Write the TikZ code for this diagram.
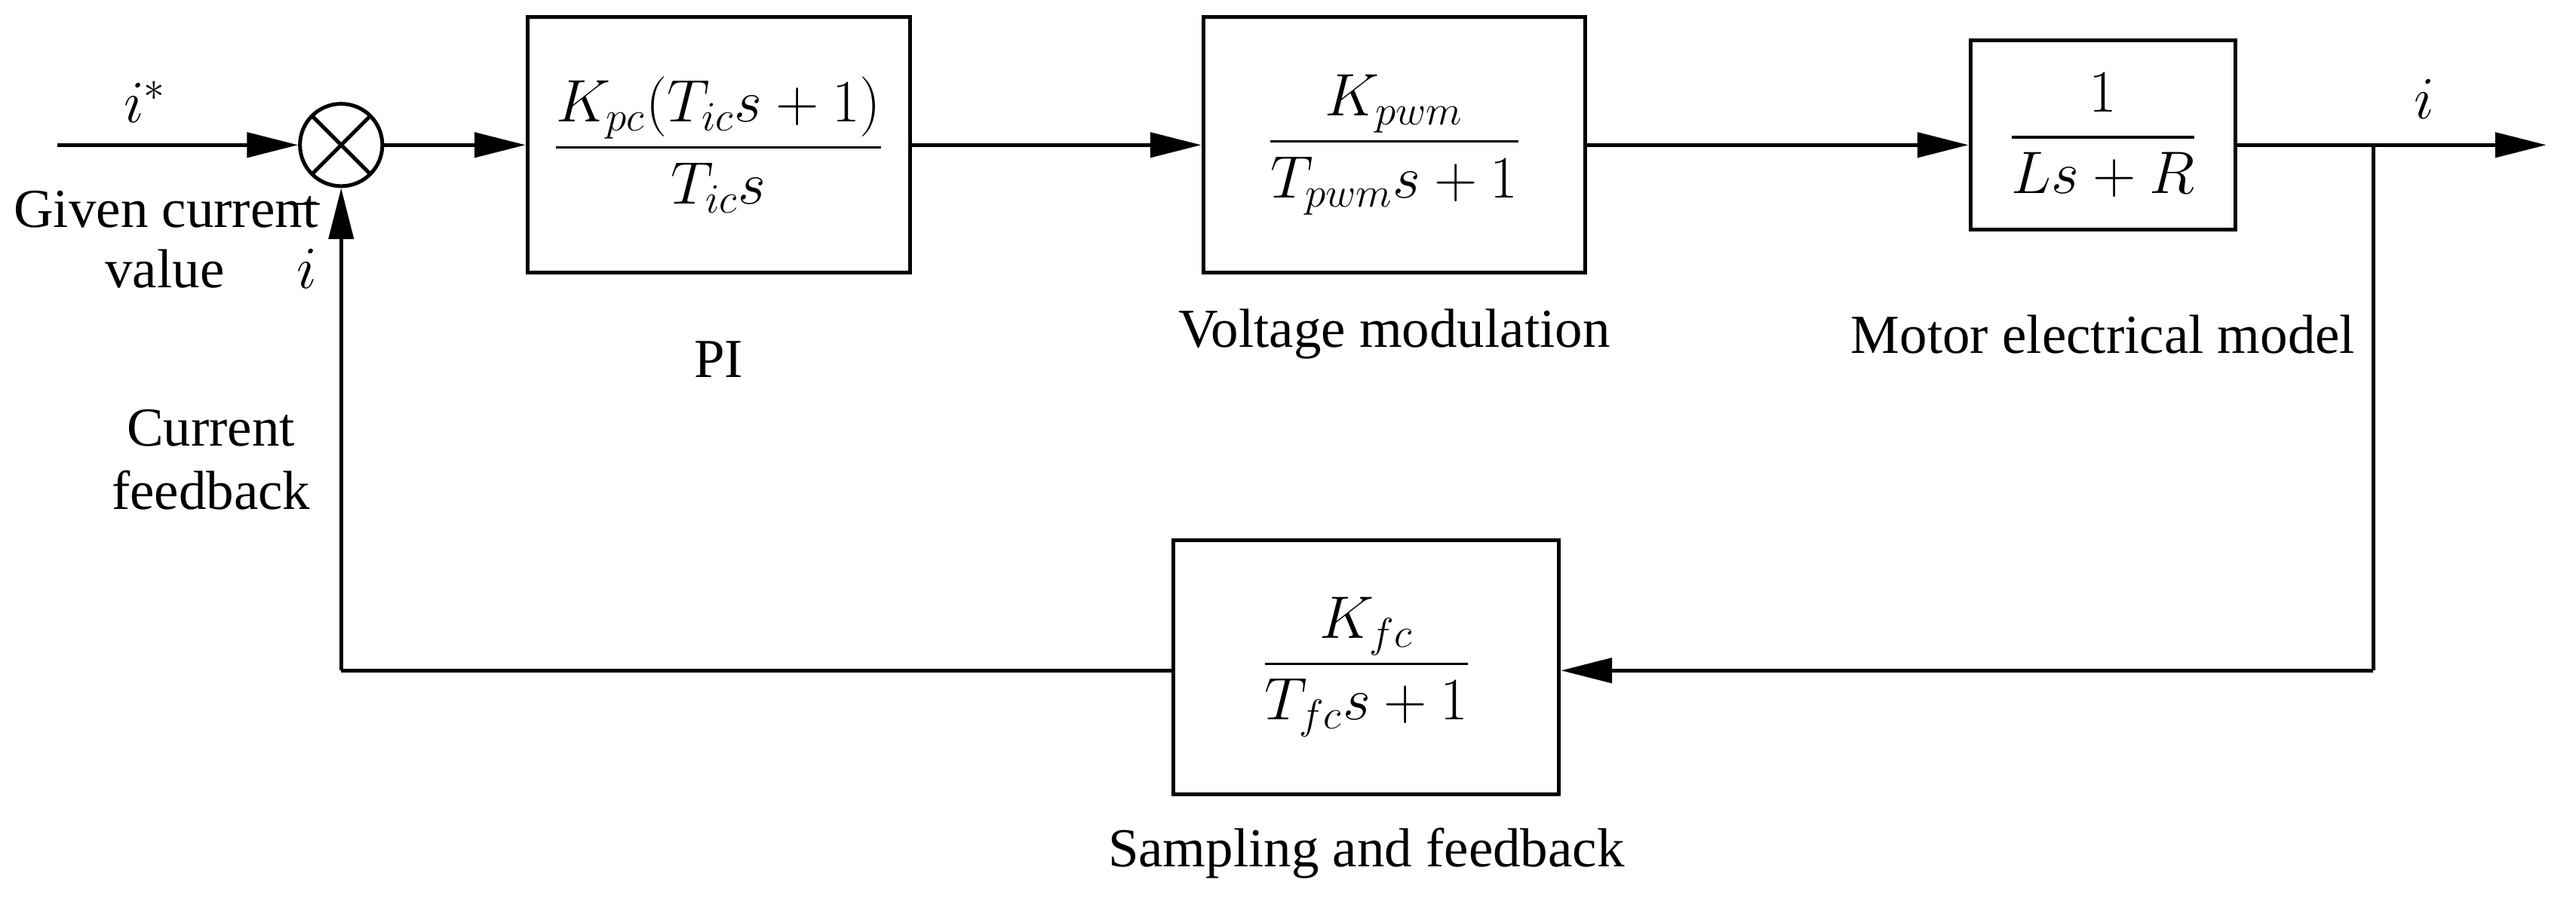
\documentclass[tikz,border=0pt]{standalone}
\usepackage{amsmath}
\usepackage{fontspec}
\setmainfont{Liberation Serif}
\usetikzlibrary{arrows.meta}
\usetikzlibrary{calc}

\tikzset{
	blk/.style={draw,line width=1.3pt,minimum width=#1,inner sep=0pt,font=\fontsize{22}{26}\selectfont},
	sig/.style={line width=1.3pt,-{Triangle[length=0.62cm,width=0.3cm]}},
	wire/.style={line width=1.3pt},
	lbl/.style={font=\fontsize{19}{22}\selectfont,align=center},
	sumj/.style={draw,circle,line width=1.3pt,minimum size=1cm,inner sep=0pt,
		path picture={\draw[line width=1.3pt] (path picture bounding box.north west) -- (path picture bounding box.south east) (path picture bounding box.north east) -- (path picture bounding box.south west);}}
}

\begin{document}
\begin{tikzpicture}[x=0.02cm,y=-0.02cm]
		\useasboundingbox (0,0) rectangle (1563,545);
		\coordinate (in) at (35,88);
		\node[sumj] (sum) at (207,88) {};
		\node[blk=4.64cm,minimum height=3.1cm] (pi) at (436,88) {$\dfrac{K_{pc}(T_{ic}s+1)}{T_{ic}s}$};
		\node[blk=4.64cm,minimum height=3.1cm] (vm) at (846,88) {$\dfrac{K_{pwm}}{T_{pwm}s+1}$};
		\node[blk=3.22cm,minimum height=2.3cm] (mot) at (1276,82) {$\dfrac{1}{Ls+R}$};
		\node[blk=4.68cm,minimum height=3.08cm] (fb) at (829,405) {$\dfrac{K_{fc}}{T_{fc}s+1}$};
		\coordinate (out) at (1545,88);
		\coordinate (br) at (1440,88);
		\coordinate (br2) at (1440,407);
		\coordinate (lc) at (207,407);
		\draw[sig] (in) -- (sum);
		\draw[sig] (sum) -- (pi.west |- sum);
		\draw[sig] (pi.east |- sum) -- (vm.west |- sum);
		\draw[sig] (vm.east |- sum) -- (mot.west |- sum);
		\draw[sig] (mot.east |- sum) -- (out);
		\draw[wire] (br) -- (br2);
		\draw[sig] (br2) -- (fb.east |- br2);
		\draw[wire] (fb.west |- br2) -- (lc);
		\draw[sig] (lc) -- (sum);
		% labels
		\node[lbl,font=\fontsize{22}{26}\selectfont] (istar) at (88,62) {$i^{*}$};
		\node[lbl,anchor=west,inner sep=0pt] (given) at (8,127) {Given current};
		\node[lbl] (value) at (100,163) {value};
		\node[lbl] (minus) at (185,124) {$-$};
		\node[lbl,font=\fontsize{22}{26}\selectfont] (ifb) at (186,163) {$i$};
		\node[lbl] (curfb) at (128,279) {Current\\feedback};
		\node[lbl] (pilbl) at (436,218) {PI};
		\node[lbl] (vmlbl) at (846,203) {Voltage modulation};
		\node[lbl] (motlbl) at (1276,203) {Motor electrical model};
		\node[lbl,font=\fontsize{22}{26}\selectfont] (iout) at (1471,60) {$i$};
		\node[lbl] (fblbl) at (829,518) {Sampling and feedback};
	\end{tikzpicture}
\end{document}
